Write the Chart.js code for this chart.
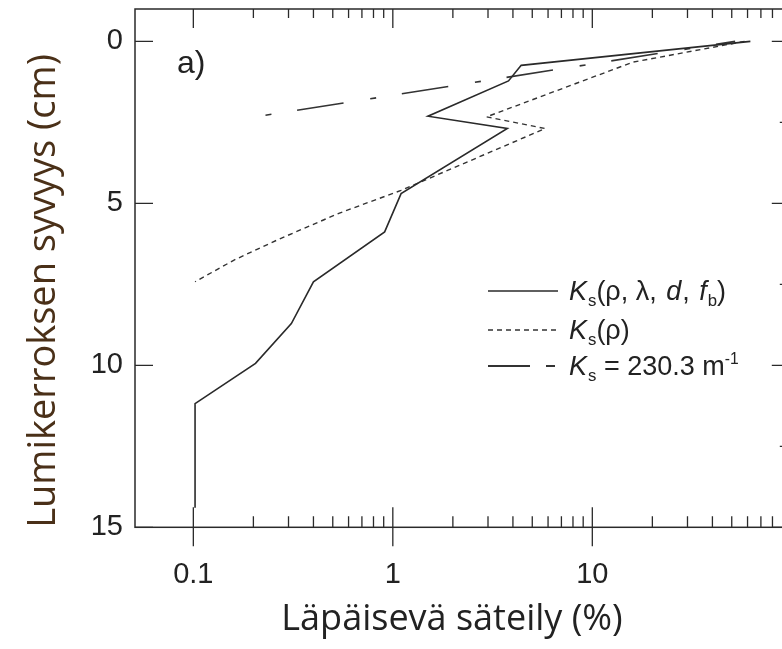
<!DOCTYPE html>
<html><head><meta charset="utf-8">
<script src="https://cdn.jsdelivr.net/npm/chart.js@4.4.1/dist/chart.umd.min.js"></script>
<style>
html,body{margin:0;padding:0;background:#fff;overflow:hidden;width:782px;height:649px;}
#wrap{position:absolute;left:0;top:0;width:800px;height:649px;}
</style></head><body>
<div id="wrap"><canvas id="c" width="800" height="649"></canvas></div>
<script>
// ---- data ----
const xTickValues = [0.1, 1, 10];
const xTickLabels = ['0.1', '1', '10'];
const yTickValues = [0, 5, 10, 15];
const yTickLabels = ['0', '5', '10', '15'];

const depthFull  = [0, 0.74, 1.22, 2.31, 2.69, 4.70, 5.88, 7.42, 8.71, 9.94, 11.18, 14.4];
const transFull  = [62, 4.4, 3.8, 1.5, 3.75, 1.1, 0.91, 0.40, 0.31, 0.205, 0.102, 0.102];

const depthRho   = [0, 0.64, 2.33, 2.69, 4.6, 5.3, 6.1, 6.75, 7.42];
const transRho   = [58, 16, 2.95, 5.8, 1.1, 0.54, 0.27, 0.16, 0.102];

const depthConst = [2.28, 0];
const transConst = [0.23, 52];

const seriesNames = ['Ks(ρ, λ, d, fb)', 'Ks(ρ)', 'Ks = 230.3 m-1'];
const xTitle = 'Läpäisevä säteily (%)';
const yTitle = 'Lumikerroksen syvyys (cm)';
const panelLabel = 'a)';

const legendRich = [
  [{t:'K',it:1},{t:'s',sub:1},{t:'(ρ, λ, '},{t:'d',it:1},{t:', '},{t:'f',it:1},{t:'b',sub:1},{t:')'}],
  [{t:'K',it:1},{t:'s',sub:1},{t:'(ρ)'}],
  [{t:'K',it:1},{t:'s',sub:1},{t:' = 230.3 m'},{t:'-1',sup:1}]
];

const pts = (xs, ys) => xs.map((v, i) => ({x: v, y: ys[i]}));

const INK = '#222';
const styles = [
  {borderColor:'#2a2a2a', borderWidth:1.6, borderDash:[]},
  {borderColor:'#333', borderWidth:1.4, borderDash:[5,4]},
  {borderColor:'#333', borderWidth:1.6, borderDash:[6,26,47,27]}
];
const legendDash = [[], [5,4], [42,16,9,200]];

const framePlugin = {
  id: 'frame',
  afterDatasetsDraw(chart) {
    const {ctx, chartArea: a, scales: {x, y}} = chart;
    ctx.save();
    ctx.strokeStyle = '#2a2a2a';
    ctx.lineWidth = 1.5;
    ctx.strokeRect(a.left, a.top, a.right - a.left, a.bottom - a.top);
    ctx.lineWidth = 1.3;
    ctx.beginPath();
    for (let e = -1; e <= 1; e++) {
      for (let m = 1; m <= 9; m++) {
        const v = m * Math.pow(10, e);
        const px = x.getPixelForValue(v);
        if (px < a.left || px > a.right) continue;
        if (m === 1) {
          ctx.moveTo(px, a.bottom - 20); ctx.lineTo(px, a.bottom + 19);
          ctx.moveTo(px, a.top); ctx.lineTo(px, a.top + 19);
        } else {
          ctx.moveTo(px, a.bottom); ctx.lineTo(px, a.bottom - 11);
          ctx.moveTo(px, a.top); ctx.lineTo(px, a.top + 9);
        }
      }
    }
    yTickValues.forEach(v => {
      const py = y.getPixelForValue(v);
      ctx.moveTo(a.left, py); ctx.lineTo(a.left + 18, py);
      ctx.moveTo(a.right, py); ctx.lineTo(a.right - 20, py);
    });
    [2.5, 7.5, 12.5].forEach(v => {
      const py = y.getPixelForValue(v);
      ctx.moveTo(a.right, py); ctx.lineTo(a.right - 12, py);
    });
    ctx.stroke();

    ctx.fillStyle = INK;
    ctx.font = '32px "Liberation Sans", Arial, sans-serif';
    ctx.textBaseline = 'alphabetic';
    ctx.textAlign = 'left';
    ctx.fillText(panelLabel, 177, 73);

    const lx0 = 488, lx1 = 558, tx = 569;
    const rows = [291, 330, 366];
    rows.forEach((ry, i) => {
      const st = styles[i];
      ctx.strokeStyle = st.borderColor;
      ctx.lineWidth = i === 2 ? 2.2 : st.borderWidth;
      ctx.setLineDash(legendDash[i]);
      ctx.beginPath(); ctx.moveTo(lx0, ry); ctx.lineTo(lx1, ry); ctx.stroke();
      ctx.setLineDash([]);
      drawRich(ctx, legendRich[i], tx, ry + 9, 27);
    });

    ctx.fillStyle = INK;
    ctx.font = '36px "Open Sans", sans-serif';
    ctx.textAlign = 'center';
    ctx.textBaseline = 'middle';
    ctx.fillText(xTitle, 452, 620);
    ctx.save();
    ctx.translate(44, 291);
    ctx.rotate(-Math.PI / 2);
    ctx.font = '38px "Open Sans", sans-serif';
    ctx.fillStyle = '#4a3018';
    ctx.fillText(yTitle, 0, 0);
    ctx.restore();
    ctx.restore();
  }
};

function drawRich(ctx, segs, x, base, size) {
  ctx.textAlign = 'left';
  ctx.textBaseline = 'alphabetic';
  ctx.fillStyle = INK;
  let cx = x;
  segs.forEach(s => {
    let fs = size, dy = 0;
    if (s.sub) { fs = size * 0.62; dy = 6; }
    if (s.sup) { fs = size * 0.58; dy = -11; }
    ctx.font = (s.it ? 'italic ' : '') + fs + 'px "Liberation Sans", Arial, sans-serif';
    ctx.fillText(s.t, cx, base + dy);
    cx += ctx.measureText(s.t).width + (s.it ? 1 : 0) + (s.t.indexOf(',') >= 0 ? 2 : 0);
  });
}

const noPad = s => { s.paddingTop = 0; s.paddingBottom = 0; s.paddingLeft = 0; s.paddingRight = 0; };

new Chart(document.getElementById('c'), {
  type: 'line',
  data: {
    datasets: [
      Object.assign({label: seriesNames[0], data: pts(transFull, depthFull)}, styles[0]),
      Object.assign({label: seriesNames[1], data: pts(transRho, depthRho)}, styles[1]),
      Object.assign({label: seriesNames[2], data: pts(transConst, depthConst)}, styles[2])
    ].map(d => Object.assign(d, {pointRadius: 0, tension: 0, fill: false}))
  },
  options: {
    responsive: false,
    animation: false,
    devicePixelRatio: 1,
    layout: {padding: {left: 0, right: 8.2, top: 9, bottom: 0}},
    plugins: {legend: {display: false}, tooltip: {enabled: false}, title: {display: false}},
    scales: {
      x: {
        type: 'logarithmic', min: 0.051, max: 100,
        grid: {display: false, drawTicks: false}, border: {display: false},
        afterBuildTicks: s => { s.ticks = xTickValues.map(v => ({value: v})); },
        afterFit: s => { s.height = 121.7; noPad(s); },
        ticks: {
          autoSkip: false, maxRotation: 0, padding: 30,
          color: INK, font: {family: '"Liberation Sans", Arial, sans-serif', size: 29},
          callback: (v) => xTickLabels[xTickValues.indexOf(v)] ?? ''
        }
      },
      y: {
        type: 'linear', min: -1, max: 15, reverse: true,
        grid: {display: false, drawTicks: false}, border: {display: false},
        afterBuildTicks: s => { s.ticks = yTickValues.map(v => ({value: v})); },
        afterFit: s => { s.width = 135; noPad(s); },
        ticks: {
          autoSkip: false, padding: 12,
          color: INK, font: {family: '"Liberation Sans", Arial, sans-serif', size: 29},
          callback: (v) => yTickLabels[yTickValues.indexOf(v)] ?? ''
        }
      }
    }
  },
  plugins: [framePlugin]
});
</script>
</body></html>
